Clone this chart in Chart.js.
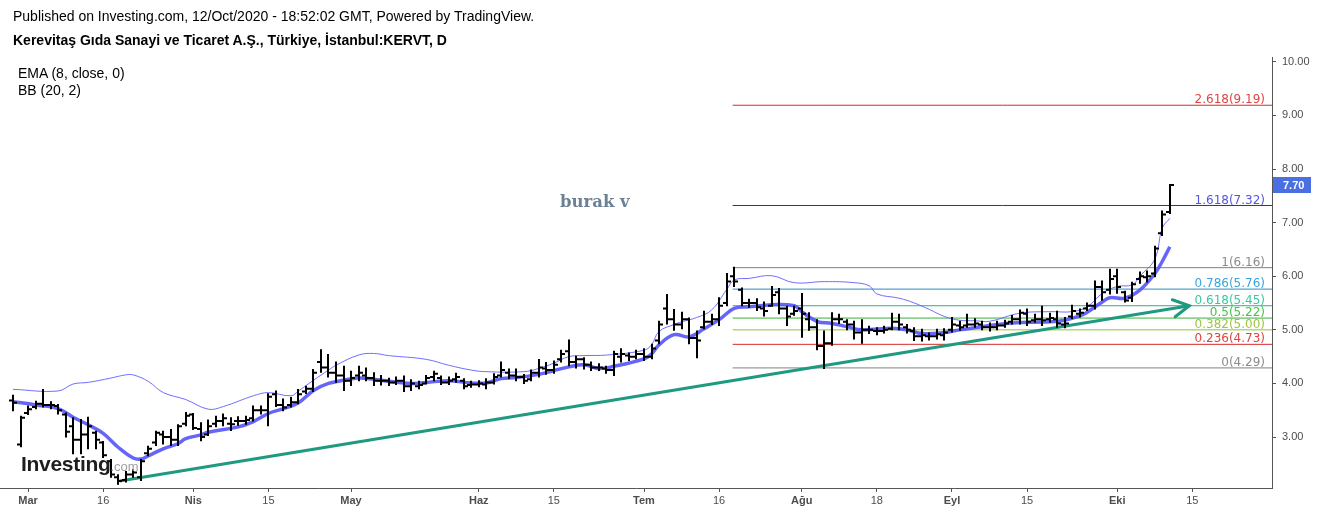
<!DOCTYPE html>
<html lang="tr">
<head>
<meta charset="UTF-8">
<title>KERVT</title>
<script src="https://cdn.jsdelivr.net/npm/chart.js"></script>
<style>
    * { margin: 0; padding: 0; }
    body { background: #fff; width: 1318px; height: 513px; overflow: hidden; font-family: Arial, 'Liberation Sans', sans-serif; }
    .wrap { position: relative; width: 1318px; height: 513px; }
    .wrap canvas { position: absolute; left: 0; top: 0; }
    .txt { position: absolute; white-space: nowrap; color: #000; }
    .pub { left: 13px; top: 8px; font-size: 14px; }
    .sym { left: 13px; top: 32px; font-size: 14px; font-weight: bold; }
    .leg { left: 18px; font-size: 14px; }
    .burak { left: 560px; top: 192px; font-family: 'DejaVu Serif', 'Liberation Serif', serif; font-weight: bold; font-size: 16.5px; color: #6d8194; }
    .logo { left: 21px; top: 452px; font-family: Arial, 'Liberation Sans', sans-serif; font-weight: bold; font-size: 21px; color: #1e1e1e; letter-spacing: -0.3px; }
    .logo span { font-size: 13px; font-weight: normal; color: #a0a0a0; letter-spacing: 0; }
</style>
</head>
<body>
<div class="wrap">
    <canvas id="chart"></canvas>
    <div class="txt pub">Published on Investing.com, 12/Oct/2020 - 18:52:02 GMT, Powered by TradingView.</div>
    <div class="txt sym">Kerevitaş Gıda Sanayi ve Ticaret A.Ş., Türkiye, İstanbul:KERVT, D</div>
    <div class="txt leg" style="top:65px">EMA (8, close, 0)</div>
    <div class="txt leg" style="top:82px">BB (20, 2)</div>
    <div class="txt burak">burak v</div>
    <div class="txt logo">Investing<span>.com</span></div>
</div>
<script>
// daily bars, index 0 = 27 Feb 2020 ... 154 = 12 Oct 2020
const highs = [3.77,3.38,3.57,3.66,3.88,3.65,3.60,3.44,3.35,3.32, 3.36,3.10,2.91,2.57,2.29,2.35,2.38,2.57,2.82,3.10,
    3.10,3.13,3.22,3.45,3.43,3.26,3.31,3.38,3.42,3.35, 3.37,3.38,3.57,3.57,3.80,3.85,3.70,3.73,3.88,3.94,
    4.25,4.62,4.53,4.39,4.31,4.22,4.31,4.28,4.19,4.14, 4.09,4.11,4.13,4.06,4.03,4.14,4.22,4.13,4.11,4.18,
    4.08,4.03,4.04,4.08,4.17,4.39,4.26,4.26,4.16,4.24, 4.44,4.38,4.41,4.61,4.80,4.50,4.47,4.39,4.36,4.31,
    4.59,4.64,4.56,4.61,4.64,4.72,5.15,5.65,5.37,5.32, 5.21,4.97,5.34,5.28,5.59,6.04,6.16,5.77,5.56,5.57,
    5.51,5.80,5.76,5.43,5.43,5.67,5.31,5.18,4.97,5.31, 5.28,5.18,5.15,5.18,5.06,5.03,5.06,5.30,5.28,5.09,
    5.03,5.00,4.93,5.00,5.01,5.22,5.15,5.28,5.20,5.15, 5.12,5.15,5.17,5.26,5.36,5.38,5.28,5.43,5.30,5.34,
    5.22,5.45,5.38,5.49,5.90,5.90,6.12,6.12,5.71,5.88, 6.07,6.09,6.55,7.21,7.70];
const lows = [3.50,2.83,3.43,3.54,3.57,3.54,3.44,3.01,2.70,2.70, 2.79,2.79,2.63,2.26,2.13,2.17,2.26,2.20,2.66,2.85,
    2.88,2.85,2.85,3.22,3.15,2.94,3.04,3.20,3.22,3.13, 3.23,3.25,3.31,3.44,3.22,3.58,3.50,3.57,3.63,3.82,
    3.86,4.22,4.13,4.03,3.88,3.97,4.06,4.06,3.97,3.98, 3.97,3.99,3.86,3.88,3.91,4.00,4.06,3.99,3.99,4.03,
    3.91,3.94,3.95,3.91,4.00,4.13,4.10,4.06,4.01,4.06, 4.13,4.18,4.20,4.41,4.34,4.30,4.28,4.25,4.25,4.20,
    4.16,4.41,4.44,4.47,4.44,4.47,4.75,5.12,5.00,5.03, 4.75,4.49,5.03,5.11,5.09,5.46,5.82,5.46,5.43,5.37,
    5.27,5.45,5.31,5.09,5.28,4.87,5.00,4.64,4.29,4.72, 5.13,5.01,4.84,4.76,4.94,4.92,4.95,5.01,5.01,4.95,
    4.81,4.80,4.82,4.84,4.82,4.97,5.00,5.06,5.06,5.01, 4.99,5.01,5.06,5.12,5.12,5.09,5.15,5.09,5.15,5.06,
    5.05,5.22,5.25,5.37,5.40,5.56,5.68,5.69,5.53,5.54, 5.88,5.90,6.00,6.77,7.18];
const opens = [3.68,2.86,3.45,3.56,3.62,3.60,3.58,3.42,3.20,2.95, 3.05,3.08,2.90,2.55,2.25,2.20,2.30,2.25,2.70,2.90,
    3.05,3.00,2.95,3.25,3.42,3.15,3.05,3.25,3.30,3.25, 3.30,3.30,3.35,3.50,3.50,3.80,3.60,3.60,3.65,3.85,
    3.90,4.40,4.30,4.20,4.15,4.05,4.15,4.15,4.10,4.05, 4.05,4.02,4.05,3.95,3.95,4.00,4.12,4.10,4.02,4.08,
    4.05,3.97,3.98,3.98,4.02,4.15,4.20,4.15,4.12,4.08, 4.20,4.28,4.25,4.45,4.60,4.40,4.45,4.35,4.30,4.28,
    4.25,4.50,4.52,4.50,4.55,4.50,4.80,5.40,5.20,5.10, 5.20,4.85,5.05,5.15,5.20,5.50,6.00,5.75,5.50,5.50,
    5.40,5.45,5.70,5.40,5.30,5.40,5.20,5.05,4.70,4.75, 5.20,5.15,5.10,4.95,5.00,4.98,4.98,5.02,5.15,5.05,
    4.98,4.88,4.88,4.88,4.90,5.00,5.08,5.08,5.10,5.10, 5.05,5.05,5.08,5.15,5.20,5.30,5.18,5.20,5.20,5.20,
    5.10,5.25,5.30,5.40,5.45,5.80,5.75,6.00,5.70,5.60, 5.95,5.98,6.05,6.80,7.20];
const closes = [3.64,3.36,3.52,3.62,3.60,3.60,3.50,3.10,2.95,3.05, 3.20,2.95,2.66,2.30,2.18,2.30,2.34,2.55,2.78,3.08,
    3.00,2.95,3.20,3.40,3.17,3.00,3.20,3.30,3.35,3.24, 3.30,3.32,3.50,3.50,3.75,3.60,3.55,3.65,3.80,3.90,
    4.20,4.30,4.20,4.15,4.05,4.10,4.20,4.10,4.05,4.05, 4.02,4.05,3.95,4.00,3.97,4.10,4.18,4.02,4.05,4.12,
    3.95,3.98,4.00,4.02,4.12,4.25,4.15,4.12,4.05,4.20, 4.30,4.25,4.35,4.55,4.40,4.45,4.35,4.30,4.30,4.25,
    4.55,4.55,4.50,4.55,4.50,4.65,5.10,5.20,5.10,5.20, 4.85,4.80,5.15,5.20,5.45,5.90,5.90,5.50,5.50,5.42,
    5.35,5.65,5.40,5.25,5.35,5.30,5.05,4.70,4.75,5.20, 5.20,5.10,4.95,5.00,5.00,4.98,5.00,5.15,5.10,5.00,
    4.88,4.90,4.88,4.92,4.95,5.10,5.05,5.10,5.12,5.05, 5.05,5.08,5.12,5.20,5.32,5.15,5.20,5.18,5.22,5.12,
    5.12,5.35,5.32,5.45,5.80,5.70,5.95,5.80,5.55,5.85, 6.00,6.00,6.52,7.15,7.70];

// EMA (8)
const emaIdx = [0,3,6,8,10,12,14,16,17,18,20,22,23,25,26,30,32,34,36,38,40,42,44,46,48,50,53,55,58,61,63,65,67,70,72,74,76,78,80,84,85,86,88,90,92,94,96,98,101,104,105,107,109,111,113,117,119,121,124,126,129,133,138,140,142,143,145,146,148,150,152,153,154];
const emaVal = [3.66,3.60,3.53,3.37,3.23,3.07,2.81,2.61,2.59,2.65,2.78,2.88,2.97,3.04,3.09,3.19,3.29,3.44,3.53,3.64,3.87,4.00,4.06,4.10,4.08,4.04,4.00,4.02,4.05,4.01,4.01,4.09,4.11,4.17,4.24,4.31,4.35,4.28,4.32,4.46,4.55,4.72,4.91,4.87,5.02,5.19,5.40,5.43,5.47,5.45,5.34,5.16,5.12,5.06,5.00,5.03,5.00,4.93,4.95,5.00,5.06,5.13,5.15,5.18,5.26,5.33,5.52,5.60,5.59,5.74,6.05,6.28,6.55];

// Bollinger upper band (20, 2)
const bbIdx = [0,6,8,10,13,15,16,18,20,23,26,28,32,34,37,38,40,42,43,46,48,50,55,58,61,63,68,70,72,74,76,79,84,85,86,88,89,91,93,95,96,98,101,104,108,112,114,115,118,120,122,124,126,128,130,134,138,141,143,145,147,149,150,152,153,154];
const bbVal = [3.89,3.86,3.99,4.02,4.10,4.16,4.16,4.04,3.83,3.70,3.52,3.57,3.77,3.83,3.77,3.86,4.06,4.25,4.34,4.53,4.56,4.52,4.45,4.34,4.25,4.22,4.22,4.28,4.38,4.50,4.52,4.53,4.62,4.72,4.97,5.10,5.15,5.23,5.37,5.75,5.93,5.96,6.01,5.88,5.90,5.88,5.82,5.67,5.59,5.50,5.38,5.25,5.18,5.17,5.16,5.31,5.34,5.34,5.43,5.68,5.81,5.84,6.00,6.32,6.90,7.08];

// trend line (drawn by hand on the original)
const trendIdx = [14.2, 156.6];
const trendVal = [2.18, 5.45];

// Fibonacci retracement from 4.29 to 6.16
const fibStart = 95.8;
const fibRatios = ['0', '0.236', '0.382', '0.5', '0.618', '0.786', '1', '1.618', '2.618'];
const fibLevels = [4.29, 4.73, 5.00, 5.22, 5.45, 5.76, 6.16, 7.32, 9.19];
const fibLineColors = ['#808080', '#d42a2a', '#94c23a', '#3aaf3a', '#2fae8c', '#2a8cc4', '#808080', '#2a2ab8', '#d42a2a'];
const fibTextColors = ['#8c8c8c', '#dd4545', '#9cc83c', '#48c248', '#3cc79c', '#3ca4dc', '#8c8c8c', '#5656dc', '#dd4545'];

// x axis
const tickIdx = [2, 12, 24, 34, 45, 62, 72, 84, 94, 105, 115, 125, 135, 147, 157];
const tickLabels = ['Mar', '16', 'Nis', '15', 'May', 'Haz', '15', 'Tem', '16', 'Ağu', '18', 'Eyl', '15', 'Eki', '15'];
const yTicks = [3, 4, 5, 6, 7, 8, 9, 10];

const X_MIN = -1.73, X_MAX = 167.6;

function pts(xs, ys) {
    return xs.map((v, i) => ({ x: v, y: ys[i] }));
}

const ohlcPlugin = {
    id: 'ohlc',
    afterDatasetsDraw(chart) {
        const { ctx, scales: { x, y } } = chart;
        ctx.save();
        ctx.strokeStyle = '#000';
        ctx.lineWidth = 2;
        ctx.beginPath();
        for (let i = 0; i < highs.length; i++) {
            const px = Math.round(x.getPixelForValue(i));
            const po = y.getPixelForValue(opens[i]);
            const pc = y.getPixelForValue(closes[i]);
            ctx.moveTo(px, y.getPixelForValue(highs[i]) - 1);
            ctx.lineTo(px, y.getPixelForValue(lows[i]) + 1);
            ctx.moveTo(px - 4, po); ctx.lineTo(px, po);
            ctx.moveTo(px, pc); ctx.lineTo(px + 4, pc);
        }
        ctx.stroke();
        ctx.restore();
    }
};

const extrasPlugin = {
    id: 'extras',
    afterDraw(chart) {
        const { ctx, scales: { x, y } } = chart;
        ctx.save();
        // fib labels
        ctx.font = '12px "DejaVu Sans", Verdana, sans-serif';
        ctx.textAlign = 'right';
        ctx.textBaseline = 'bottom';
        fibLevels.forEach((lv, i) => {
            ctx.fillStyle = fibTextColors[i];
            ctx.fillText(fibRatios[i] + '(' + lv.toFixed(2) + ')', x.right - 7, y.getPixelForValue(lv) + 1);
        });
        // arrow head on trend line
        const x1 = x.getPixelForValue(trendIdx[0]), y1 = y.getPixelForValue(trendVal[0]);
        const x2 = x.getPixelForValue(trendIdx[1]), y2 = y.getPixelForValue(trendVal[1]);
        const a = Math.atan2(y2 - y1, x2 - x1);
        ctx.strokeStyle = '#1f9a80';
        ctx.lineWidth = 3;
        ctx.lineCap = 'round';
        ctx.beginPath();
        ctx.moveTo(x2 - 18 * Math.cos(a - 0.5), y2 - 18 * Math.sin(a - 0.5));
        ctx.lineTo(x2, y2);
        ctx.lineTo(x2 - 18 * Math.cos(a + 0.5), y2 - 18 * Math.sin(a + 0.5));
        ctx.stroke();
        // last price tag
        const last = closes[closes.length - 1];
        const py = Math.round(y.getPixelForValue(last));
        ctx.fillStyle = '#4a6fe3';
        ctx.fillRect(x.right + 1, py - 8, 38, 16);
        ctx.fillStyle = '#fff';
        ctx.font = 'bold 11px Arial, "Liberation Sans", sans-serif';
        ctx.textAlign = 'left';
        ctx.textBaseline = 'middle';
        ctx.fillText(last.toFixed(2), x.right + 11, py + 1);
        ctx.restore();
    }
};

const datasets = [
    { data: pts(bbIdx, bbVal), borderColor: 'rgba(95,95,255,0.9)', borderWidth: 1, tension: 0.4 },
    { data: pts(emaIdx, emaVal), borderColor: 'rgba(88,88,250,0.92)', borderWidth: 3.5, tension: 0.4 },
    { data: pts(trendIdx, trendVal), borderColor: '#1f9a80', borderWidth: 3 }
];
fibLevels.forEach((lv, i) => {
    datasets.push({ data: [{ x: fibStart, y: lv }, { x: X_MAX, y: lv }], borderColor: fibLineColors[i], borderWidth: 1 });
});
datasets.forEach(d => { d.pointRadius = 0; d.fill = false; });

new Chart(document.getElementById('chart'), {
    type: 'line',
    data: { datasets: datasets },
    options: {
        responsive: true,
        maintainAspectRatio: false,
        animation: false,
        layout: { padding: { top: 57, left: 0, right: 0, bottom: 0 } },
        plugins: { legend: { display: false }, tooltip: { enabled: false } },
        scales: {
            x: {
                type: 'linear',
                min: X_MIN,
                max: X_MAX,
                afterBuildTicks: s => { s.ticks = tickIdx.map(v => ({ value: v })); },
                afterFit: s => { s.height = 25; },
                grid: { drawOnChartArea: false, drawTicks: true, tickLength: 4, color: '#555' },
                border: { color: '#555', width: 1 },
                ticks: {
                    autoSkip: false,
                    maxRotation: 0,
                    padding: 2,
                    color: '#4d4d4d',
                    font: c => ({ family: 'Arial, "Liberation Sans", sans-serif', size: 11,
                        weight: isNaN(+tickLabels[tickIdx.indexOf(c.tick ? c.tick.value : -1)]) ? 'bold' : 'normal' }),
                    callback: v => tickLabels[tickIdx.indexOf(v)]
                }
            },
            y: {
                position: 'right',
                min: 2.05,
                max: 10.09,
                afterBuildTicks: s => { s.ticks = yTicks.map(v => ({ value: v })); },
                afterFit: s => { s.width = 46; },
                grid: { drawOnChartArea: false, drawTicks: true, tickLength: 4, color: '#555' },
                border: { color: '#555', width: 1 },
                ticks: {
                    padding: 6,
                    color: '#4d4d4d',
                    font: { family: 'Arial, "Liberation Sans", sans-serif', size: 11 },
                    callback: v => v.toFixed(2)
                }
            }
        }
    },
    plugins: [ohlcPlugin, extrasPlugin]
});
</script>
</body>
</html>
